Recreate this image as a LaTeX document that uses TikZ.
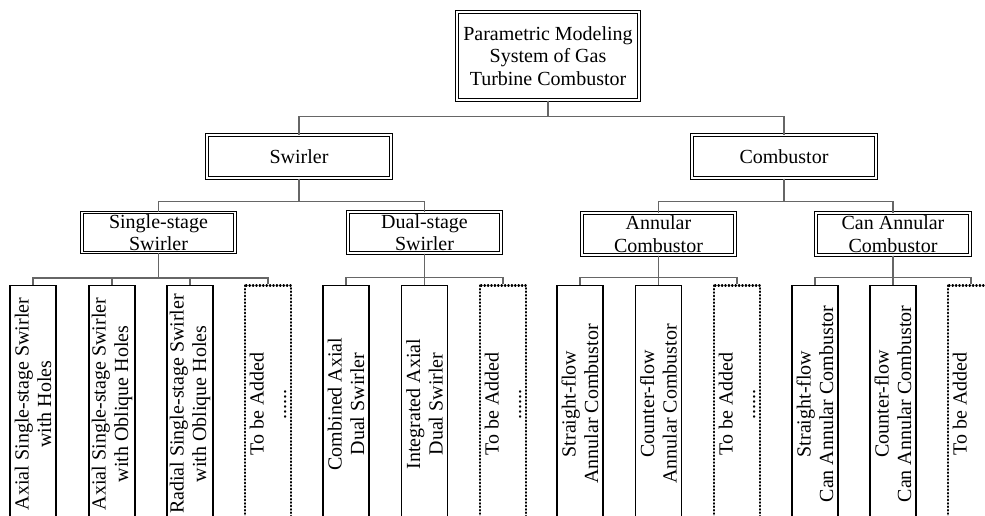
\documentclass[tikz,border=0pt]{standalone}
\usepackage{fontspec}
\setmainfont{Liberation Serif}
\usetikzlibrary{calc}

\tikzset{
    dbox/.style={draw, double, double distance=1.8pt, line width=1pt, align=center,
        inner sep=0pt, font=\fontsize{20}{22.5}\selectfont},
    leafbox/.style={draw, line width=1.2pt, rotate=90, align=center, inner sep=0pt,
        minimum width=237, minimum height=46, font=\fontsize{20}{22.5}\selectfont},
    addbox/.style={leafbox, line width=2.2pt, line cap=round, dash pattern=on 0.6pt off 2.8pt},
    conn/.style={draw=black!60, line width=1.1pt}
}

\begin{document}
\begin{tikzpicture}[x=1pt,y=-1pt]
    \useasboundingbox (0,0) rectangle (985,515); % Fixes the page...

    % levels 0 - 2
    \node[dbox, minimum width=182, minimum height=88] (system) at (548,56)
        {Parametric Modeling\\System of Gas\\Turbine Combustor};
    \node[dbox, minimum width=184, minimum height=43] (swirler) at (299,156.5) {Swirler};
    \node[dbox, minimum width=184, minimum height=43] (combustor) at (784,156.5) {Combustor};
    \node[dbox, minimum width=153, minimum height=40] (single) at (158.5,232.5) {Single-stage\\Swirler};
    \node[dbox, minimum width=153, minimum height=41] (dual) at (424.5,232.5) {Dual-stage\\Swirler};
    \node[dbox, minimum width=153, minimum height=42] (annular) at (658.5,234) {Annular\\Combustor};
    \node[dbox, minimum width=154, minimum height=42] (can) at (893,234) {Can Annular\\Combustor};

    % leaves
    \node[leafbox] (sa) at (33,404) {Axial Single-stage Swirler\\with Holes};
    \node[leafbox] (sb) at (112,404) {Axial Single-stage Swirler\\with Oblique Holes};
    \node[leafbox] (sc) at (190,404) {Radial Single-stage Swirler\\with Oblique Holes};
    \node[addbox] (sd) at (268,404) {To be Added\\......};
    \node[leafbox] (da) at (346,404) {Combined Axial\\Dual Swirler};
    \node[leafbox] (db) at (424.5,404) {Integrated Axial\\Dual Swirler};
    \node[addbox] (dc) at (503,404) {To be Added\\......};
    \node[leafbox] (aa) at (580,404) {Straight-flow\\Annular Combustor};
    \node[leafbox] (ab) at (658.5,404) {Counter-flow\\Annular Combustor};
    \node[addbox] (ac) at (737,404) {To be Added\\......};
    \node[leafbox] (ca) at (815,404) {Straight-flow\\Can Annular Combustor};
    \node[leafbox] (cb) at (893,404) {Counter-flow\\Can Annular Combustor};
    \node[addbox] (cc) at (971,404) {To be Added\\......};

    % connectors
    \draw[conn] (system.south) -- ++(0,16) -| (swirler.north);
    \draw[conn] (system.south) -- ++(0,16) -| (combustor.north);
    \draw[conn] (swirler.south) -- ++(0,23) -| (single.north);
    \draw[conn] (swirler.south) -- ++(0,23) -| (dual.north);
    \draw[conn] (combustor.south) -- ++(0,23) -| (annular.north);
    \draw[conn] (combustor.south) -- ++(0,23) -| (can.north);
    \foreach \leaf in {sa,sb,sc,sd}
        \draw[conn] (single.south) -- ++(0,25) -| (\leaf.east);
    \foreach \leaf in {da,db,dc}
        \draw[conn] (dual.south) -- ++(0,24) -| (\leaf.east);
    \foreach \leaf in {aa,ab,ac}
        \draw[conn] (annular.south) -- ++(0,22) -| (\leaf.east);
    \foreach \leaf in {ca,cb,cc}
        \draw[conn] (can.south) -- ++(0,22) -| (\leaf.east);
\end{tikzpicture}
\end{document}
